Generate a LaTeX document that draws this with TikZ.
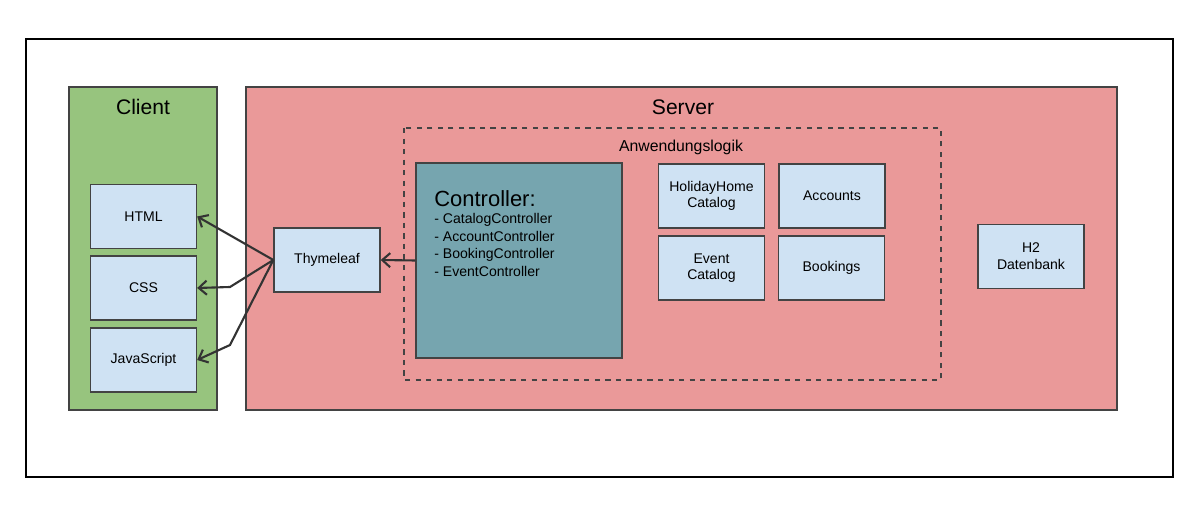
\documentclass[tikz,border=0pt]{standalone}
\usepackage{fontspec}
\setmainfont{Liberation Sans}
\usetikzlibrary{arrows.meta}

\definecolor{clientgreen}{HTML}{97C47E}
\definecolor{servered}{HTML}{EA9999}
\definecolor{boxblue}{HTML}{CFE2F3}
\definecolor{ctrlteal}{HTML}{76A5AF}
\definecolor{edgegray}{HTML}{434343}

\tikzset{
  compbox/.style={draw=edgegray, fill=boxblue, line width=0.8pt, minimum width=2.12cm,
    minimum height=1.28cm, align=center, font=\fontsize{8}{9.5}\selectfont, inner sep=1pt},
  titletext/.style={font=\fontsize{12}{14}\selectfont},
  link/.style={-{Straight Barb[length=4.5pt,width=8pt]}, draw=black!80, line width=1.2pt}
}

\begin{document}
\begin{tikzpicture}[x=0.02cm, y=-0.02cm]
        \useasboundingbox (0,0) rectangle (1200,516);

        % Outer frame
        \draw[line width=0.8pt] (26,39) rectangle (1173,477);

        % Client
        \draw[fill=clientgreen, draw=edgegray, line width=0.7pt] (69,87) rectangle (217,410);
        \node[titletext] (clienttitle) at (143,107) {Client};

        \node[compbox] (html) at (143.5,216.5) {HTML};
        \node[compbox] (css) at (143.5,288) {CSS};
        \node[compbox] (js) at (143.5,360) {JavaScript};

        % Server
        \draw[fill=servered, draw=edgegray, line width=0.7pt] (246,87) rectangle (1117,410);
        \node[titletext] (servertitle) at (683,107) {Server};

        \node[compbox] (thyme) at (327,260) {Thymeleaf};

        % Anwendungslogik
        \draw[dashed, draw=edgegray, line width=0.6pt] (404,128) rectangle (941,380);
        \node[font=\fontsize{9}{11}\selectfont] (logiktitle) at (681,147) {Anwendungslogik};

        \node[draw=edgegray, fill=ctrlteal, line width=0.8pt, minimum width=4.12cm,
          minimum height=3.9cm] (ctrl) at (519,260.5) {};
        \node[anchor=north west, align=left, inner sep=0pt, font=\fontsize{8}{10}\selectfont]
          (ctrltext) at (434,190) {{\fontsize{12.5}{14.5}\selectfont Controller:}\\
          - CatalogController\\ - AccountController\\ - BookingController\\ - EventController};

        \node[compbox] (holiday) at (711.5,196) {HolidayHome\\Catalog};
        \node[compbox] (accounts) at (832,196) {Accounts};
        \node[compbox] (event) at (711.5,268) {Event\\Catalog};
        \node[compbox] (bookings) at (831.5,268) {Bookings};

        % Datenbank
        \node[compbox] (h2) at (1031,256.5) {H2\\Datenbank};

        % Connections
        \coordinate (cssbend) at (230,287);
        \coordinate (jsbend) at (230,345);
        \draw[link] (ctrl.west) -- (thyme.east);
        \draw[link] (thyme.west) -- (html.east);
        \draw[link] (thyme.west) -- (cssbend) -- (css.east);
        \draw[link] (thyme.west) -- (jsbend) -- (js.east);
\end{tikzpicture}
\end{document}
